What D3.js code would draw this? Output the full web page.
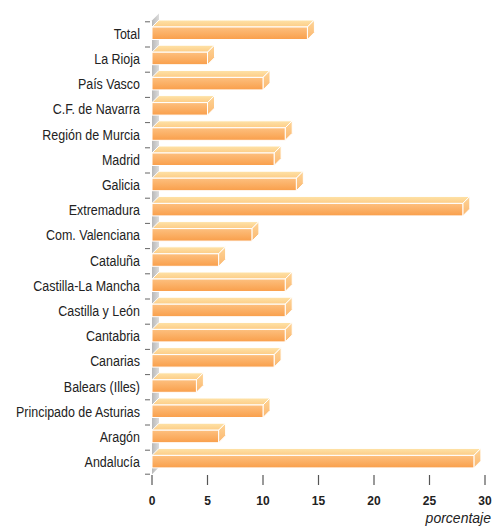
<!DOCTYPE html>
<html><head><meta charset="utf-8">
<script src="https://cdn.jsdelivr.net/npm/d3@7/dist/d3.min.js"></script>
<style>body{margin:0;background:#fff;} svg{display:block;}</style>
</head><body>
<script>
const categories = ["Total","La Rioja","País Vasco","C.F. de Navarra","Región de Murcia","Madrid","Galicia","Extremadura","Com. Valenciana","Cataluña","Castilla-La Mancha","Castilla y León","Cantabria","Canarias","Balears (Illes)","Principado de Asturias","Aragón","Andalucía"];
const values = [14,5,10,5,12,11,13,28,9,6,12,12,12,11,4,10,6,29];
const xTicks = [0,5,10,15,20,25,30];
const axisTitle = "porcentaje";

const W = 493, H = 529;
const FONT = "'Liberation Sans', Arial, sans-serif";
const svg = d3.select("body").append("svg").attr("width", W).attr("height", H);
const defs = svg.append("defs");
const gFront = defs.append("linearGradient").attr("id","gFront").attr("x1",0).attr("y1",0).attr("x2",0).attr("y2",1);
gFront.append("stop").attr("offset","0%").attr("stop-color","#fdc07f");
gFront.append("stop").attr("offset","100%").attr("stop-color","#f99f4b");
const gTop = defs.append("linearGradient").attr("id","gTop").attr("x1",0).attr("y1",0).attr("x2",0).attr("y2",1);
gTop.append("stop").attr("offset","0%").attr("stop-color","#fee3a8");
gTop.append("stop").attr("offset","100%").attr("stop-color","#fdcc86");
const gSide = defs.append("linearGradient").attr("id","gSide").attr("x1",0).attr("y1",0).attr("x2",0).attr("y2",1);
gSide.append("stop").attr("offset","0%").attr("stop-color","#fed597");
gSide.append("stop").attr("offset","100%").attr("stop-color","#fbb770");
const gWall = defs.append("linearGradient").attr("id","gWall").attr("x1",0).attr("y1",0).attr("x2",1).attr("y2",0);
gWall.append("stop").attr("offset","0%").attr("stop-color","#b8b8b8");
gWall.append("stop").attr("offset","100%").attr("stop-color","#dcdcdc");

const x = d3.scaleLinear().domain([0,30]).range([152,485]);
const y = d3.scaleBand().domain(categories).range([20.6, 474.2]).padding(0);
const D = 7; // depth offset
const barOff = 6.4, barH = 12.5;

// left wall
const yTop = y.range()[0], yBot = y.range()[1];
svg.append("path")
  .attr("d", `M${x(0)},${yTop} L${x(0)+D},${yTop-D} L${x(0)+D},${yBot-D} L${x(0)},${yBot} Z`)
  .attr("fill","url(#gWall)");

// y ticks
const yTickPos = categories.map(c => y(c)+1.2).concat([yBot]);
svg.selectAll(".ytick").data(yTickPos).enter().append("line")
  .attr("x1",145).attr("x2",150).attr("y1",d=>d).attr("y2",d=>d)
  .attr("stroke","#666").attr("stroke-width",1);

// bars
const bars = svg.selectAll(".bar").data(categories.map((c,i)=>({c, v: values[i]}))).enter().append("g");
bars.append("path").attr("d", d => {
  const y0 = y(d.c)+barOff, x0 = x(0), x1 = x(d.v);
  return `M${x0},${y0} L${x0+D},${y0-D} L${x1+D},${y0-D} L${x1},${y0} Z`;
}).attr("fill","url(#gTop)").attr("stroke","#fff").attr("stroke-width",1);
bars.append("path").attr("d", d => {
  const y0 = y(d.c)+barOff, y1 = y0+barH, x1 = x(d.v);
  return `M${x1},${y0} L${x1+D},${y0-D} L${x1+D},${y1-D} L${x1},${y1} Z`;
}).attr("fill","url(#gSide)").attr("stroke","#fff").attr("stroke-width",1);
bars.append("rect")
  .attr("x", x(0)).attr("y", d => y(d.c)+barOff)
  .attr("width", d => x(d.v)-x(0)).attr("height", barH)
  .attr("fill","url(#gFront)").attr("stroke","#fff").attr("stroke-width",1);

// category labels (slightly condensed)
const sx = 0.89;
const labG = svg.append("g").attr("transform", `scale(${sx},1)`);
labG.selectAll(".ylab").data(categories).enter().append("text")
  .attr("x",140/sx).attr("y", d => y(d)+barOff+barH/2+5.5)
  .attr("text-anchor","end")
  .attr("font-family",FONT).attr("font-size",14)
  .attr("fill","#222").text(d=>d);

// x axis ticks
svg.selectAll(".xtick").data(xTicks).enter().append("line")
  .attr("x1",d=>x(d)).attr("x2",d=>x(d)).attr("y1",475).attr("y2",485)
  .attr("stroke","#555").attr("stroke-width",1.2);
svg.selectAll(".xlab").data(xTicks).enter().append("text")
  .attr("x",d=>x(d)).attr("y",505).attr("text-anchor","middle")
  .attr("font-family",FONT).attr("font-size",12).attr("font-weight","bold")
  .attr("fill","#222").text(d=>d);

svg.append("text").attr("x",491).attr("y",523).attr("text-anchor","end")
  .attr("font-family",FONT).attr("font-size",14).attr("font-style","italic")
  .attr("fill","#222").text(axisTitle);
</script>
</body></html>
